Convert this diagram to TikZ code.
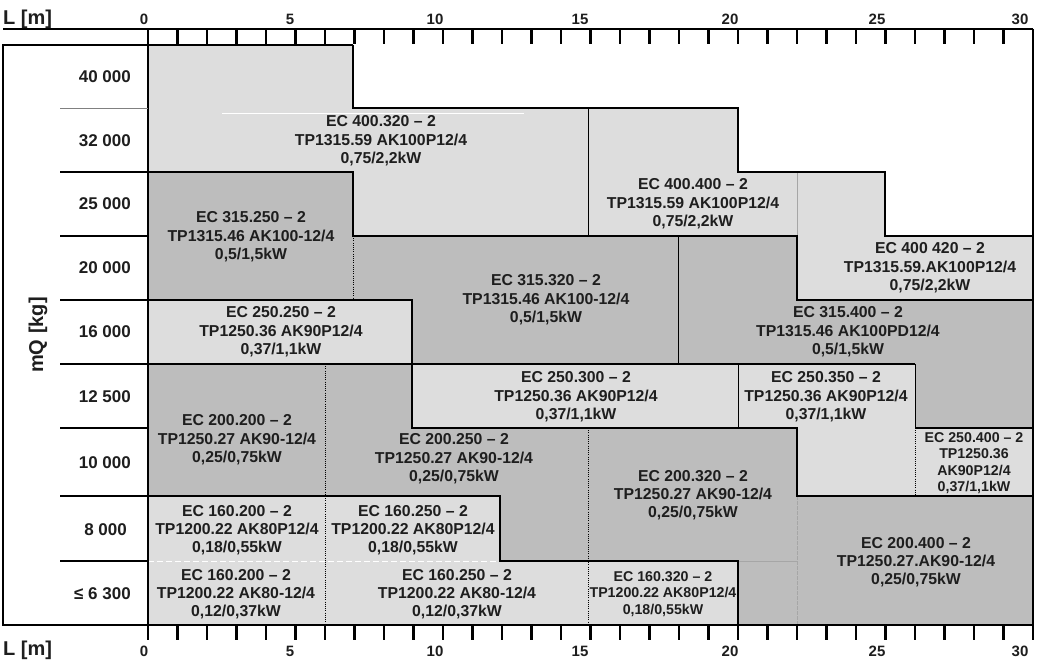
\documentclass[tikz,border=0pt]{standalone}
\usepackage{fontspec}
\setmainfont{Liberation Sans}
\definecolor{lightg}{HTML}{DDDDDD}
\definecolor{darkg}{HTML}{BDBDBD}
\definecolor{txt}{HTML}{1E1E1E}
\begin{document}
\begin{tikzpicture}[x=1pt,y=-1pt,
  thk/.style={line width=2.3pt,line join=miter},
  thn/.style={line width=0.9pt},
  dotln/.style={line width=1pt,dash pattern=on 1pt off 1.2pt},
  grayln/.style={line width=0.9pt,draw=gray!70},
  tick/.style={line width=2.6pt},
  lbl/.style={font=\fontsize{15.8}{18.3}\selectfont\bfseries,align=center,text=txt,inner sep=0pt},
  smalllbl/.style={font=\fontsize{14.2}{16.5}\selectfont\bfseries,align=center,text=txt,inner sep=0pt},
  rowlbl/.style={font=\fontsize{17}{20}\selectfont\bfseries,anchor=east,text=txt,inner sep=0pt},
  axnum/.style={font=\fontsize{15}{18}\selectfont\bfseries,text=txt,inner sep=0pt},
  axlbl/.style={font=\fontsize{20}{24}\selectfont\bfseries,text=txt,inner sep=0pt}]
\path[use as bounding box,fill=white] (0,0) rectangle (1043,661);

% ---- fills ----
\fill[lightg] (148,45)--(353,45)--(353,108)--(738,108)--(738,172)--(885,172)--(885,236)--(1033,236)--(1033,300)--(797,300)--(797,236)--(353,236)--(353,172)--(148,172)--cycle;
\fill[darkg] (148,172)--(353,172)--(353,236)--(797,236)--(797,300)--(1033,300)--(1033,428)--(915,428)--(915,364)--(412,364)--(412,300)--(148,300)--cycle;
\fill[lightg] (148,300) rectangle (412,364);
\fill[lightg] (412,364)--(915,364)--(915,428)--(1033,428)--(1033,496)--(797,496)--(797,428)--(412,428)--cycle;
\fill[darkg] (148,364)--(412,364)--(412,428)--(797,428)--(797,496)--(1033,496)--(1033,625)--(738,625)--(738,561)--(500,561)--(500,496)--(148,496)--cycle;
\fill[lightg] (148,496)--(500,496)--(500,561)--(738,561)--(738,625)--(148,625)--cycle;

% ---- faint / inner lines ----
\draw[white,line width=0.9pt] (222,113)--(524,113);
\draw[white,line width=0.8pt,dash pattern=on 6pt off 3pt] (148,561)--(500,561);
\draw[grayln] (797,172)--(797,236);
\draw[grayln,dash pattern=on 4pt off 1pt] (797,496)--(797,625);
\draw[grayln] (738,561)--(797,561);
\draw[thn] (588,108)--(588,236);
\draw[thn] (678,236)--(678,364);
\draw[thn] (738,364)--(738,428);
\draw[thn] (915,364)--(915,428);
\draw[dotln] (353,236)--(353,300);
\draw[dotln] (325,364)--(325,625);
\draw[dotln] (588,428)--(588,625);
\draw[dotln] (915,428)--(915,496);

% ---- region outlines ----
\draw[thk] (353,45)--(353,108)--(738,108)--(738,172)--(885,172)--(885,236)--(1033,236);
\draw[thk] (148,172)--(353,172)--(353,236)--(797,236)--(797,300)--(1033,300);
\draw[thk] (148,300)--(412,300)--(412,364);
\draw[thk] (148,364)--(915,364);
\draw[thk] (412,364)--(412,428)--(797,428)--(797,496)--(1033,496);
\draw[thk] (915,428)--(1033,428);
\draw[thk] (148,496)--(500,496)--(500,561)--(738,561)--(738,625);

% ---- frame and left column ----
\draw[thk] (3,29)--(1033,29);
\draw[thk] (1033,29)--(1033,625)--(3,625)--(3,45)--(353,45);
\draw[thk] (148,45)--(148,625);
\draw[line width=1pt,draw=gray] (60,108)--(148,108);
\foreach \yy in {172,236,300,364,428,496,561} \draw[thk] (60,\yy)--(148,\yy);

% ---- ticks ----
\foreach \i in {0,...,30} {
  \draw[tick] ({148+29.5*\i},29)--({148+29.5*\i},44);
  \draw[tick] ({148+29.5*\i},626)--({148+29.5*\i},640);
}

% ---- axis labels ----
\node[axlbl,anchor=west] (ltop) at (3,19) {L [m]};
\node[axlbl,anchor=west] (lbot) at (3,650) {L [m]};
\node[axlbl,rotate=90] (mq) at (38,335) {mQ [kg]};
\node[axnum] (n0t) at (144,19) {0};
\node[axnum] (n5t) at (290,19) {5};
\node[axnum] (n10t) at (435,19) {10};
\node[axnum] (n15t) at (580,19) {15};
\node[axnum] (n20t) at (730,19) {20};
\node[axnum] (n25t) at (877,19) {25};
\node[axnum] (n30t) at (1020,19) {30};
\node[axnum] (n0b) at (144,651) {0};
\node[axnum] (n5b) at (290,651) {5};
\node[axnum] (n10b) at (435,651) {10};
\node[axnum] (n15b) at (580,651) {15};
\node[axnum] (n20b) at (730,651) {20};
\node[axnum] (n25b) at (877,651) {25};
\node[axnum] (n30b) at (1020,651) {30};

% ---- row labels ----
\node[rowlbl] (r1) at (131,77) {40 000};
\node[rowlbl] (r2) at (131,141) {32 000};
\node[rowlbl] (r3) at (131,204) {25 000};
\node[rowlbl] (r4) at (131,268) {20 000};
\node[rowlbl] (r5) at (131,332) {16 000};
\node[rowlbl] (r6) at (131,397) {12 500};
\node[rowlbl] (r7) at (131,463) {10 000};
\node[rowlbl] (r8) at (127,530) {8 000};
\node[rowlbl] (r9) at (131,594) {≤ 6 300};

% ---- region texts ----
\node[lbl] (ec400320) at (381,141) {EC 400.320 – 2\\TP1315.59 AK100P12/4\\0,75/2,2kW};
\node[lbl] (ec400400) at (693,204) {EC 400.400 – 2\\TP1315.59 AK100P12/4\\0,75/2,2kW};
\node[lbl] (ec400420) at (930,268) {EC 400 420 – 2\\TP1315.59.AK100P12/4\\0,75/2,2kW};
\node[lbl] (ec315250) at (251,237) {EC 315.250 – 2\\TP1315.46 AK100-12/4\\0,5/1,5kW};
\node[lbl] (ec315320) at (546,300) {EC 315.320 – 2\\TP1315.46 AK100-12/4\\0,5/1,5kW};
\node[lbl] (ec315400) at (848,332) {EC 315.400 – 2\\TP1315.46 AK100PD12/4\\0,5/1,5kW};
\node[lbl] (ec250250) at (281,332) {EC 250.250 – 2\\TP1250.36 AK90P12/4\\0,37/1,1kW};
\node[lbl] (ec250300) at (576,397) {EC 250.300 – 2\\TP1250.36 AK90P12/4\\0,37/1,1kW};
\node[lbl] (ec250350) at (826,397) {EC 250.350 – 2\\TP1250.36 AK90P12/4\\0,37/1,1kW};
\node[smalllbl] (ec250400) at (974,463) {EC 250.400 – 2\\TP1250.36\\AK90P12/4\\0,37/1,1kW};
\node[lbl] (ec200200) at (237,440) {EC 200.200 – 2\\TP1250.27 AK90-12/4\\0,25/0,75kW};
\node[lbl] (ec200250) at (454,459) {EC 200.250 – 2\\TP1250.27 AK90-12/4\\0,25/0,75kW};
\node[lbl] (ec200320) at (693,495) {EC 200.320 – 2\\TP1250.27 AK90-12/4\\0,25/0,75kW};
\node[lbl] (ec200400) at (916,562) {EC 200.400 – 2\\TP1250.27.AK90-12/4\\0,25/0,75kW};
\node[lbl] (ec160200a) at (237,530) {EC 160.200 – 2\\TP1200.22 AK80P12/4\\0,18/0,55kW};
\node[lbl] (ec160250a) at (413,530) {EC 160.250 – 2\\TP1200.22 AK80P12/4\\0,18/0,55kW};
\node[lbl] (ec160200b) at (236,594) {EC 160.200 – 2\\TP1200.22 AK80-12/4\\0,12/0,37kW};
\node[lbl] (ec160250b) at (457,594) {EC 160.250 – 2\\TP1200.22 AK80-12/4\\0,12/0,37kW};
\node[smalllbl] (ec160320) at (663,594) {EC 160.320 – 2\\TP1200.22 AK80P12/4\\0,18/0,55kW};
\end{tikzpicture}
\end{document}
